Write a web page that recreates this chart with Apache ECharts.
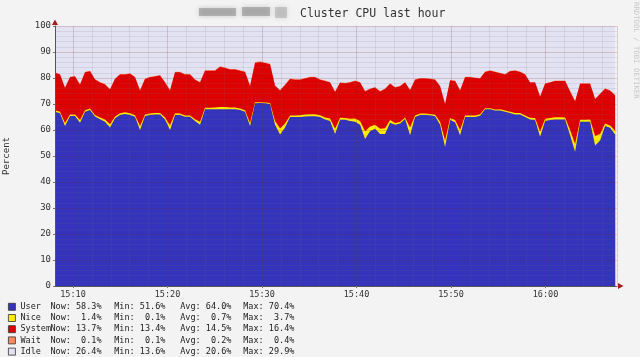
<!DOCTYPE html>
<html><head><meta charset="utf-8">
<script src="https://cdn.jsdelivr.net/npm/echarts@6/dist/echarts.min.js"></script>
<style>html,body{margin:0;padding:0;background:#f3f3f3}#c{width:640px;height:357px}</style>
</head><body><div id="c"></div>
<script>
// x values: seconds after 15:00:00
const sampleStart = 486;      // 15:08:06
const sampleStep = 31.75;     // seconds between samples
const axisStart = 486, axisEnd = 4054;

const names = ['User', 'Nice', 'System', 'Wait', 'Idle'];

const userVals = [67.0,66.4,61.5,65.4,65.4,62.8,67.0,67.7,65.2,64.1,
63.2,61.0,64.5,65.8,66.2,65.8,65.1,60.0,65.4,65.8,
66.0,66.0,64.0,60.0,65.8,65.8,65.1,65.1,63.5,62.0,
68.0,68.0,68.0,68.0,68.0,68.0,68.0,67.7,67.0,61.5,
70.3,70.4,70.3,70.0,62.0,58.3,61.0,65.0,65.0,65.0,
65.2,65.3,65.3,65.0,64.0,63.5,58.5,63.9,63.9,63.5,
63.2,62.0,56.5,59.5,60.5,58.5,58.5,62.8,62.0,62.5,
64.2,58.0,65.0,65.8,65.8,65.7,65.3,62.0,53.5,63.8,
63.0,58.0,65.0,65.0,65.0,65.5,68.0,68.0,67.5,67.5,
67.0,66.5,66.0,66.0,65.0,64.0,63.8,57.4,63.5,63.8,
64.0,64.0,64.0,58.0,51.6,63.2,63.2,63.2,54.0,56.0,
61.5,60.9,58.3];

const niceVals = [0.6,0.6,1.2,0.6,0.6,1.0,0.6,0.6,0.6,0.7,
0.8,1.2,0.7,0.6,0.6,0.6,0.6,1.5,0.6,0.5,
0.5,0.5,0.8,1.8,0.6,0.5,0.5,0.5,0.6,1.2,
0.6,0.6,0.7,0.8,0.8,0.7,0.7,0.6,0.6,1.2,
0.4,0.3,0.3,0.4,1.5,2.3,1.5,0.6,0.6,0.7,
0.8,0.8,0.8,0.7,0.8,0.9,2.0,0.8,0.7,0.8,
1.2,1.5,3.0,1.8,1.5,2.0,2.2,1.0,0.7,0.6,
0.6,3.0,0.6,0.5,0.5,0.5,0.6,1.2,2.5,0.8,
0.8,2.0,0.6,0.6,0.6,0.6,0.4,0.4,0.4,0.5,
0.5,0.5,0.5,0.5,0.6,0.7,0.8,2.0,0.8,0.8,
0.9,0.9,0.8,2.0,3.0,0.7,0.7,0.8,3.7,2.5,
1.0,0.8,1.4];

const systemVals = [14.4,14.3,13.5,14.3,14.6,13.6,14.6,14.3,13.6,13.5,
13.5,13.4,14.4,14.9,14.5,15.2,14.6,13.7,13.6,14.0,
14.1,14.5,13.5,13.4,15.8,15.9,15.7,15.7,15.2,15.1,
14.2,14.2,14.1,15.5,15.0,14.6,14.6,14.5,14.7,14.1,
15.1,15.5,15.2,14.9,13.5,14.6,14.8,14.0,13.7,13.6,
13.8,14.2,14.2,13.6,14.0,13.9,14.1,13.5,13.4,14.0,
14.4,14.8,15.3,14.5,14.3,14.3,15.1,14.0,13.6,13.7,
13.5,14.3,13.7,13.5,13.5,13.4,13.4,13.6,13.9,14.4,
15.0,15.2,14.7,14.7,14.4,13.7,13.9,14.4,14.4,13.8,
13.8,15.6,16.3,15.8,15.7,13.6,13.7,13.4,13.5,13.7,
13.9,13.9,14.0,14.8,16.4,13.9,13.9,13.8,14.1,15.3,
13.4,13.4,13.7];

const waitVals = [0.2,0.2,0.2,0.2,0.2,0.2,0.2,0.2,0.2,0.2,
0.3,0.2,0.2,0.2,0.2,0.2,0.2,0.2,0.2,0.2,
0.2,0.2,0.2,0.2,0.2,0.2,0.2,0.2,0.2,0.2,
0.2,0.2,0.2,0.2,0.2,0.2,0.2,0.2,0.2,0.2,
0.4,0.2,0.2,0.2,0.2,0.2,0.2,0.2,0.2,0.2,
0.2,0.2,0.2,0.2,0.2,0.2,0.2,0.2,0.2,0.2,
0.2,0.2,0.3,0.2,0.2,0.2,0.2,0.2,0.2,0.2,
0.2,0.2,0.2,0.2,0.2,0.2,0.2,0.2,0.2,0.2,
0.2,0.2,0.2,0.2,0.2,0.2,0.2,0.2,0.2,0.2,
0.2,0.2,0.2,0.2,0.2,0.1,0.2,0.2,0.2,0.2,
0.2,0.2,0.2,0.2,0.2,0.2,0.2,0.2,0.2,0.2,
0.2,0.2,0.1];

const idleVals = [17.8,18.5,23.6,19.5,19.2,22.4,17.6,17.2,20.4,21.5,
22.2,24.2,20.2,18.5,18.5,18.2,19.5,24.6,20.2,19.5,
19.2,18.8,21.5,24.6,17.6,17.6,18.5,18.5,20.5,21.5,
17.0,17.0,17.0,15.5,16.0,16.5,16.5,17.0,17.5,23.0,
13.8,13.6,14.0,14.5,22.8,24.6,22.5,20.2,20.5,20.5,
20.0,19.5,19.5,20.5,21.0,21.5,25.2,21.6,21.8,21.5,
21.0,21.5,24.9,24.0,23.5,25.0,24.0,22.0,23.5,23.0,
21.5,24.5,20.5,20.0,20.0,20.2,20.5,23.0,29.9,20.8,
21.0,24.6,19.5,19.5,19.8,20.0,17.5,17.0,17.5,18.0,
18.5,17.2,17.0,17.5,18.5,21.6,21.5,27.0,22.0,21.5,
21.0,21.0,21.0,25.0,28.8,22.0,22.0,22.0,28.0,26.0,
23.9,24.7,26.4];

// legend statistics
const nowVals = [58.3, 1.4, 13.7, 0.1, 26.4];
const minVals = [51.6, 0.1, 13.4, 0.1, 13.6];
const avgVals = [64.0, 0.7, 14.5, 0.2, 20.6];
const maxVals = [70.4, 3.7, 16.4, 0.4, 29.9];

const colors = ['#3333bb', '#ffea00', '#dd0000', '#ff8a60', '#e2e2f2'];
const seriesVals = [userVals, niceVals, systemVals, waitVals, idleVals];

// stacked tops (running sum of the layers, like rrdtool AREA:STACK)
const stackedTops = [];
seriesVals.forEach((arr, k) => {
  stackedTops.push(arr.map((v, i) => (k ? stackedTops[k - 1][i] : 0) + v));
});

const mono = 'DejaVu Sans Mono';
const fmt = v => v.toFixed(1).padStart(5);
const fmtTime = s => {
  const tot = 15 * 60 + Math.round(s / 60);
  const h = Math.floor(tot / 60), m = tot % 60;
  return h + ':' + String(m).padStart(2, '0');
};

const chart = echarts.init(document.getElementById('c'), null, {renderer: 'canvas'});
const rich = {
  n: {fontFamily: mono, fontSize: 8.5, color: '#222', width: 30},
  a: {fontFamily: mono, fontSize: 8.5, color: '#222', width: 63.8},
  b: {fontFamily: mono, fontSize: 8.5, color: '#222', width: 66},
  c: {fontFamily: mono, fontSize: 8.5, color: '#222', width: 63},
  d: {fontFamily: mono, fontSize: 8.5, color: '#222'}
};

// draw the top layer first so lower layers paint over it
const order = [4, 3, 2, 1, 0];

chart.setOption({
  animation: false,
  backgroundColor: '#f3f3f3',
  title: {
    text: 'Cluster CPU last hour', left: 295, top: 3,
    textStyle: {fontFamily: mono, fontSize: 11.5, fontWeight: 'normal', color: '#333'}
  },
  grid: {left: 55, right: 23, top: 26, bottom: 71, containLabel: false, outerBoundsMode: 'none'},
  legend: {
    orient: 'vertical', left: 8, top: 301.5, padding: 0,
    itemWidth: 7, itemHeight: 7, itemGap: 0.6, icon: 'rect',
    selectedMode: false, data: names,
    itemStyle: {borderColor: '#333', borderWidth: 0.8},
    textStyle: {fontFamily: mono, fontSize: 8.5, color: '#222', lineHeight: 10.6, rich: rich},
    formatter: name => {
      const k = names.indexOf(name);
      return '{n|' + name + '}{a|Now:' + fmt(nowVals[k]) + '%}{b|Min:' + fmt(minVals[k]) +
        '%}{c|Avg:' + fmt(avgVals[k]) + '%}{d|Max:' + fmt(maxVals[k]) + '%}';
    }
  },
  xAxis: {
    type: 'value', min: axisStart, max: axisEnd, minInterval: 600, maxInterval: 600, z: 5,
    axisLine: {show: true, onZero: false, lineStyle: {color: '#555', width: 1}},
    axisTick: {show: true, length: 2, lineStyle: {color: '#777'}},
    axisLabel: {fontFamily: mono, fontSize: 8.5, color: '#333', margin: 4,
      showMinLabel: false, showMaxLabel: false, formatter: v => fmtTime(v)},
    splitLine: {show: true, lineStyle: {color: 'rgba(130,40,40,0.2)', width: 1}},
    minorTick: {show: false, splitNumber: 5},
    minorSplitLine: {show: true, lineStyle: {color: 'rgba(110,110,130,0.13)', width: 1}}
  },
  yAxis: {
    type: 'value', min: 0, max: 100, interval: 10, z: 5,
    axisLine: {show: true, lineStyle: {color: '#555', width: 1}},
    axisTick: {show: true, length: 2, lineStyle: {color: '#777'}},
    axisLabel: {fontFamily: mono, fontSize: 9, color: '#333', margin: 4},
    splitLine: {show: true, lineStyle: {color: 'rgba(130,40,40,0.2)', width: 1}},
    minorTick: {show: false, splitNumber: 5},
    minorSplitLine: {show: true, lineStyle: {color: 'rgba(110,110,130,0.13)', width: 1}},
    name: 'Percent', nameLocation: 'middle', nameGap: 44,
    nameTextStyle: {fontFamily: mono, fontSize: 9, color: '#333'}
  },
  series: order.map(k => ({
    name: names[k], type: 'line', z: 2,
    data: stackedTops[k].map((v, i) => [sampleStart + i * sampleStep, v]),
    showSymbol: false, symbol: 'none', silent: true,
    lineStyle: {width: 0, color: colors[k]},
    itemStyle: {color: colors[k]},
    areaStyle: {color: colors[k], opacity: 1, origin: 'start'}
  })),
  graphic: [
    {type: 'polygon', shape: {points: [[52, 25], [58, 25], [55, 19.5]]}, style: {fill: '#b01818'}, z: 10},
    {type: 'polygon', shape: {points: [[618, 283], [618, 289], [623.5, 286]]}, style: {fill: '#b01818'}, z: 10},
    {type: 'text', x: 639, y: 2, rotation: -Math.PI / 2,
      style: {text: 'RRDTOOL / TOBI OETIKER', font: '7.3px "DejaVu Sans Mono"', fill: '#c8c8c8', textAlign: 'left', textVerticalAlign: 'top'}},
    {type: 'rect', shape: {x: 199, y: 8, width: 37, height: 8}, style: {fill: 'rgba(140,140,140,0.55)', shadowBlur: 4, shadowColor: 'rgba(140,140,140,0.8)'}},
    {type: 'rect', shape: {x: 242, y: 7, width: 28, height: 9}, style: {fill: 'rgba(140,140,140,0.55)', shadowBlur: 4, shadowColor: 'rgba(140,140,140,0.8)'}},
    {type: 'rect', shape: {x: 275, y: 7, width: 12, height: 11}, style: {fill: 'rgba(160,160,160,0.45)', shadowBlur: 4, shadowColor: 'rgba(160,160,160,0.8)'}}
  ]
});
</script>
</body></html>
